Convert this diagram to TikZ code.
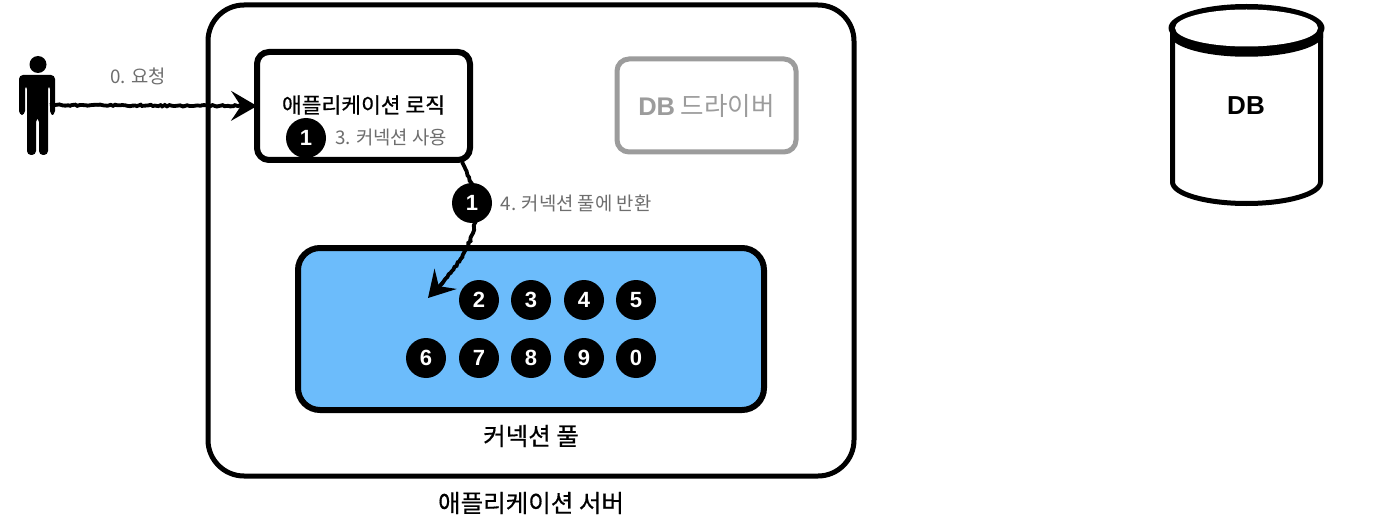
\documentclass[tikz,border=0pt]{standalone}
\usepackage{fontspec}
\setmainfont{Liberation Sans}
\newfontfamily\kr{Noto Sans CJK KR}
\newfontfamily\krm[FakeBold=0.5]{Noto Sans CJK KR}
\usetikzlibrary{arrows.meta,decorations.pathmorphing,calc}
\definecolor{poolblue}{HTML}{6CBCFB}
\definecolor{drivergray}{HTML}{9C9C9C}
\definecolor{labelgray}{HTML}{6E6E6E}
\tikzset{
  x=1pt,y=-1pt,
  frame/.style={draw=black,line width=5pt,rounded corners=#1,outer sep=0pt,inner sep=0pt,fill=white},
  ball/.style={circle,fill=black,text=white,minimum size=40pt,inner sep=0pt,outer sep=0pt,font=\fontsize{22}{22}\selectfont\bfseries},
  graylabel/.style={text=labelgray,inner sep=0pt,font=\kr\fontsize{18.8}{20}\selectfont},
  title/.style={inner sep=0pt,text=black,font=\krm\fontsize{21.5}{22}\selectfont},
  rough/.style={draw=black,line width=3.8pt,decorate,decoration={random steps,segment length=2.5pt,amplitude=.8pt}},
  core/.style={draw=black,line width=2.4pt},
  tip/.style={-{Stealth[length=26pt,width=30pt,inset=10pt]}}
}
\begin{document}
\begin{tikzpicture}
\useasboundingbox (0,0) rectangle (1374,524);
% outer server
\node[frame=36pt,minimum width=646pt,minimum height=471pt] (server) at (531,240.5) {};
\node[title,font=\krm\fontsize{24.5}{26}\selectfont] (serverlabel) at (531,503) {애플리케이션 서버};
% app logic
\node[frame=12pt,line width=6pt,minimum width=213pt,minimum height=108pt] (app) at (363.5,106) {};
\node[title] (applabel) at (363.5,105) {애플리케이션 로직};
\node[graylabel] (uselabel) at (391,137) {3. 커넥션 사용};
% driver
\node[frame=12pt,draw=drivergray,minimum width=179pt,minimum height=93pt,text=drivergray,font=\kr\fontsize{25.5}{27}\selectfont] (driver) at (706.5,105.5) {{\rmfamily\bfseries DB} 드라이버};
% pool
\node[frame=22pt,line width=6pt,fill=poolblue,minimum width=466pt,minimum height=162pt] (pool) at (531,329) {};
\node[title,font=\krm\fontsize{24.5}{26}\selectfont] (poollabel) at (531,436) {커넥션 풀};
% person
\node[inner sep=0pt,minimum width=36pt,minimum height=100pt] (person) at (37,105) {};
\fill[black] (38,64.5) circle (8.5pt);
\fill[black,rounded corners=4pt] (19,115) -- (19,75) -- (55,75) -- (55,115) -- (50,115) -- (50,85) -- (48,85) -- (48,155) -- (39,155) -- (39,118) -- (36,118) -- (36,155) -- (27,155) -- (27,85) -- (25,85) -- (25,115) -- cycle;
% request
\coordinate (reqstart) at (50,105);
\node[graylabel] (reqlabel) at (138,76) {0. 요청};
\draw[core,tip] (reqstart) -- (app.west);
\draw[rough] (reqstart) -- ($(app.west)+(-14,0)$);
% return
\coordinate (retstart) at (462,162);
\coordinate (retend) at (428,298);
\path[core,tip] (retstart) .. controls (490,215) and (472,250) .. (retend);
\draw[rough] (retstart) .. controls (490,215) and (472,250) .. (438,288);
% balls
\node[ball] (b1a) at (306,138) {1};
\node[ball] (b1b) at (472,203) {1};
\node[graylabel] (retlabel) at (576,203) {4. 커넥션 풀에 반환};
\node[ball] (b2) at (479,300) {2};
\node[ball] (b3) at (531,300) {3};
\node[ball] (b4) at (584,300) {4};
\node[ball] (b5) at (636,300) {5};
\node[ball] (b6) at (426,358) {6};
\node[ball] (b7) at (479,358) {7};
\node[ball] (b8) at (531,358) {8};
\node[ball] (b9) at (584,358) {9};
\node[ball] (b0) at (636,358) {0};
% database
\draw[black,line width=5pt,fill=white,line join=round] (1172.5,28) -- (1172.5,182) arc[start angle=180,end angle=360,x radius=74pt,y radius=21.5pt] -- (1320.5,28) -- cycle;
\fill[black] (1246.5,28) ellipse[x radius=78pt,y radius=24pt];
\fill[black] (1170,28) -- (1170,38) .. controls (1190,63) and (1303,63) .. (1323,38) -- (1323,28) -- cycle;
\fill[white] (1246.5,28) ellipse[x radius=71.5pt,y radius=18.5pt];
\node[inner sep=0pt,font=\fontsize{26}{26}\selectfont\bfseries] (db) at (1246,106) {DB};
\end{tikzpicture}
\end{document}
